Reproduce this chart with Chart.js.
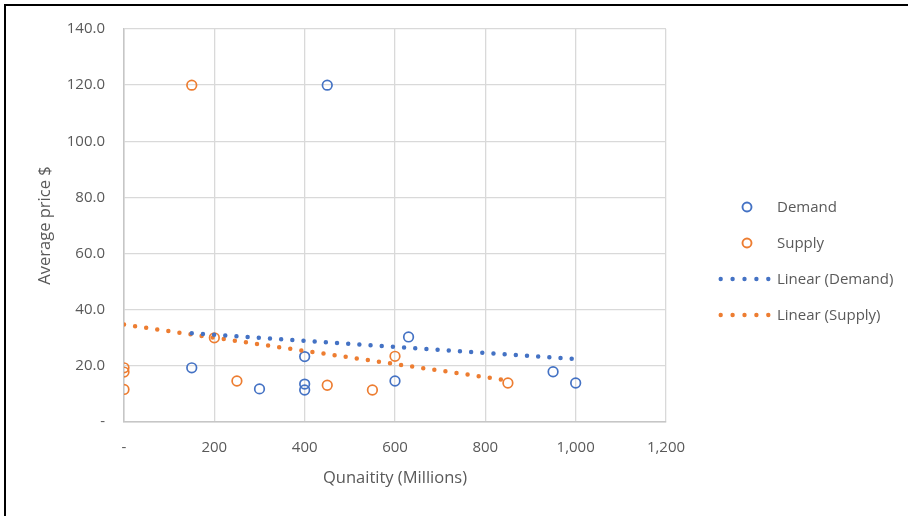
<!DOCTYPE html>
<html>
<head>
<meta charset="utf-8">
<script src="https://cdn.jsdelivr.net/npm/chart.js@4.4.0/dist/chart.umd.min.js"></script>
<style>
  html, body { margin:0; padding:0; background:#fff; }
  #wrap { position:relative; width:908px; height:516px; overflow:hidden; font-family:"Open Sans", sans-serif; }
  #c { position:absolute; left:0; top:0; }
  #frame { position:absolute; left:4px; top:4px; right:-10px; bottom:-10px; border-top:2px solid #000; border-left:2px solid #000; pointer-events:none; }
  .lg { position:absolute; color:#595959; font-size:15px; line-height:20px; white-space:nowrap; }
  .mk { position:absolute; }
</style>
</head>
<body>
<div id="wrap">
  <canvas id="c" width="908" height="516"></canvas>
  <div id="legend"></div>
  <div id="frame"></div>
</div>
<script>
// ---- data ----
const demandQty   = [150, 300, 400, 400, 400, 450, 600, 630, 950, 1000];
const demandPrice = [19.3, 11.8, 13.5, 11.4, 23.3, 120, 14.6, 30.3, 17.9, 13.9];
const supplyQty   = [0, 0, 0, 150, 200, 250, 450, 550, 600, 850];
const supplyPrice = [19.3, 17.8, 11.6, 120, 30.0, 14.6, 13.1, 11.4, 23.4, 13.9];
// trendline end points (Linear fits as drawn)
const demandTrendQty   = [150, 1000];
const demandTrendPrice = [31.6, 22.4];
const supplyTrendQty   = [0, 850];
const supplyTrendPrice = [34.7, 14.8];
const seriesNames = ['Demand', 'Supply', 'Linear (Demand)', 'Linear (Supply)'];
const xTitle = 'Qunaitity (Millions)';
const yTitle = 'Average price $';

const BLUE = '#4472C4', ORANGE = '#ED7D31', TXT = '#595959';
const pts = (xs, ys) => xs.map((x, i) => ({x, y: ys[i]}));

const fontTick = {family: '"Open Sans", sans-serif', size: 15};
const fontTitle = {family: '"Open Sans", sans-serif', size: 16.5, lineHeight: 1.2};

new Chart(document.getElementById('c'), {
  type: 'scatter',
  data: {
    datasets: [
      {label: seriesNames[0], data: pts(demandQty, demandPrice), borderColor: BLUE, backgroundColor: 'rgba(0,0,0,0)', pointRadius: 4.8, pointBorderWidth: 1.7, pointHoverRadius: 4.8, order: 2},
      {label: seriesNames[1], data: pts(supplyQty, supplyPrice), borderColor: ORANGE, backgroundColor: 'rgba(0,0,0,0)', pointRadius: 4.8, pointBorderWidth: 1.7, pointHoverRadius: 4.8, order: 2},
      {label: seriesNames[2], type: 'line', data: pts(demandTrendQty, demandTrendPrice), borderColor: BLUE, borderWidth: 4.5, borderDash: [0, 11.2], borderCapStyle: 'round', pointRadius: 0, fill: false, order: 1},
      {label: seriesNames[3], type: 'line', data: pts(supplyTrendQty, supplyTrendPrice), borderColor: ORANGE, borderWidth: 4.5, borderDash: [0, 11.2], borderCapStyle: 'round', pointRadius: 0, fill: false, order: 1}
    ]
  },
  options: {
    responsive: false,
    animation: false,
    events: [],
    layout: {padding: {left: 0, top: 29, right: 242, bottom: 0}},
    plugins: {legend: {display: false}, tooltip: {enabled: false}, title: {display: false}},
    scales: {
      x: {
        type: 'linear', min: 0, max: 1200,
        ticks: {stepSize: 200, color: TXT, font: fontTick, padding: 17,
          callback: v => v === 0 ? '-' : v.toLocaleString('en-US')},
        grid: {color: '#d9d9d9', lineWidth: 1.3, drawTicks: false},
        border: {display: true, color: '#c6c6c6', width: 1.5},
        title: {display: true, text: xTitle, color: TXT, font: fontTitle, padding: {top: 0, bottom: 28}},
        afterFit: s => { s.height = 94; }
      },
      y: {
        type: 'linear', min: 0, max: 140,
        ticks: {stepSize: 20, color: TXT, font: fontTick, padding: 19,
          callback: v => v === 0 ? '-' : v.toFixed(1)},
        grid: {color: '#d9d9d9', lineWidth: 1.3, drawTicks: false},
        border: {display: true, color: '#c6c6c6', width: 1.5},
        title: {display: true, text: yTitle, color: TXT, font: fontTitle, padding: {top: 35, bottom: 0}},
        afterFit: s => { s.width = 124; }
      }
    }
  }
});

// ---- legend (HTML) ----
const lg = document.getElementById('legend');
const items = [
  {name: seriesNames[0], color: BLUE, kind: 'circle', y: 207},
  {name: seriesNames[1], color: ORANGE, kind: 'circle', y: 243},
  {name: seriesNames[2], color: BLUE, kind: 'dots', y: 279},
  {name: seriesNames[3], color: ORANGE, kind: 'dots', y: 315}
];
items.forEach(it => {
  const svgNS = 'http://www.w3.org/2000/svg';
  const svg = document.createElementNS(svgNS, 'svg');
  svg.setAttribute('class', 'mk');
  if (it.kind === 'circle') {
    svg.setAttribute('width', 14); svg.setAttribute('height', 14);
    svg.style.left = (746.7 - 7) + 'px'; svg.style.top = (it.y - 7) + 'px';
    const c = document.createElementNS(svgNS, 'circle');
    c.setAttribute('cx', 7); c.setAttribute('cy', 7); c.setAttribute('r', 4.5);
    c.setAttribute('fill', 'none'); c.setAttribute('stroke', it.color); c.setAttribute('stroke-width', 1.9);
    svg.appendChild(c);
  } else {
    svg.setAttribute('width', 56); svg.setAttribute('height', 8);
    svg.style.left = (718) + 'px'; svg.style.top = (it.y - 4) + 'px';
    for (let i = 0; i < 5; i++) {
      const c = document.createElementNS(svgNS, 'circle');
      c.setAttribute('cx', 2.7 + i * 11.9); c.setAttribute('cy', 4); c.setAttribute('r', 2.2);
      c.setAttribute('fill', it.color);
      svg.appendChild(c);
    }
  }
  lg.appendChild(svg);
  const t = document.createElement('div');
  t.className = 'lg';
  t.textContent = it.name;
  t.style.left = '777px';
  t.style.top = (it.y - 11) + 'px';
  lg.appendChild(t);
});
</script>
</body>
</html>
